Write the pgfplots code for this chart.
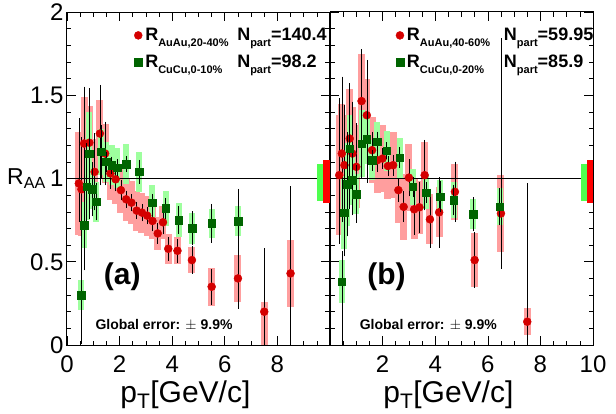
\documentclass[border=0pt]{standalone}
\usepackage{pgfplots}
\usepackage{pgfplotstable}
\pgfplotsset{compat=1.18}
\usepackage{fontspec}
\setmainfont{Liberation Sans}
\definecolor{rmark}{HTML}{D40000}
\definecolor{gmark}{HTML}{006400}
\definecolor{rbox}{HTML}{FF9E9E}
\definecolor{gbox}{HTML}{9EFF9E}
\newcommand{\lsub}[1]{\raisebox{-0.32em}{\fontsize{11}{11}\selectfont #1}}

% x y stat+ stat- box+ box-
\pgfplotstableread{
x y sp sm bp bm
0.45 0.97 0.38 0.22 0.31 0.31
0.55 0.935 0.30 0.30 0.28 0.28
0.65 1.21 0.33 0.47 0.28 0.28
0.85 1.215 0.30 0.30 0.22 0.22
1.05 1.04 0.22 0.22 0.20 0.20
1.25 1.27 0.28 0.30 0.20 0.20
1.45 1.15 0.18 0.18 0.18 0.18
1.65 1.03 0.08 0.08 0.16 0.16
1.85 0.995 0.06 0.06 0.15 0.15
2.05 0.93 0.05 0.05 0.14 0.14
2.25 0.875 0.04 0.04 0.13 0.13
2.45 0.855 0.04 0.04 0.13 0.13
2.65 0.807 0.04 0.04 0.12 0.12
2.85 0.795 0.04 0.04 0.12 0.12
3.05 0.777 0.04 0.04 0.12 0.12
3.25 0.745 0.05 0.05 0.11 0.11
3.45 0.67 0.05 0.05 0.10 0.10
3.65 0.737 0.06 0.06 0.10 0.10
3.85 0.578 0.06 0.06 0.09 0.09
4.2 0.566 0.06 0.06 0.08 0.08
4.75 0.51 0.07 0.07 0.08 0.08
5.5 0.35 0.095 0.095 0.115 0.115
6.5 0.40 0.17 0.17 0.14 0.14
7.5 0.20 0.37 0.37 0.06 0.20
8.5 0.43 0.51 0.51 0.20 0.20
}\redA
\pgfplotstableread{
x y sp sm bp bm
0.55 0.30 0.37 0.28 0.09 0.09
0.65 0.72 0.26 0.26 0.14 0.14
0.75 0.95 0.25 0.25 0.20 0.20
0.85 1.15 0.38 0.38 0.25 0.25
0.95 0.935 0.15 0.15 0.12 0.12
1.1 0.86 0.10 0.10 0.12 0.12
1.3 1.16 0.15 0.15 0.14 0.14
1.5 1.10 0.05 0.05 0.12 0.12
1.7 1.08 0.04 0.04 0.12 0.12
1.9 1.065 0.04 0.04 0.12 0.12
2.25 1.087 0.035 0.035 0.12 0.12
2.75 1.04 0.06 0.06 0.12 0.12
3.25 0.855 0.04 0.04 0.105 0.105
3.75 0.82 0.05 0.05 0.105 0.105
4.25 0.75 0.07 0.07 0.10 0.10
4.75 0.70 0.09 0.09 0.095 0.095
5.5 0.73 0.105 0.105 0.087 0.087
6.5 0.745 0.18 0.18 0.09 0.09
}\greenA
\pgfplotstableread{
x y sp sm bp bm
0.35 1.02 0.45 0.40 0.36 0.36
0.45 1.15 0.45 0.40 0.30 0.30
0.55 1.08 0.35 0.35 0.30 0.30
0.75 1.24 0.32 0.32 0.30 0.30
0.85 1.15 0.30 0.30 0.28 0.28
1.0 1.07 0.25 0.25 0.25 0.25
1.2 1.465 0.30 0.30 0.28 0.28
1.4 1.38 0.32 0.32 0.22 0.22
1.6 1.17 0.10 0.10 0.20 0.20
1.8 1.11 0.06 0.06 0.20 0.20
2.0 1.12 0.05 0.05 0.20 0.20
2.2 1.075 0.05 0.05 0.20 0.20
2.4 1.08 0.05 0.05 0.20 0.20
2.6 0.93 0.06 0.06 0.20 0.20
2.8 0.83 0.08 0.08 0.20 0.20
3.0 1.005 0.10 0.10 0.20 0.20
3.2 0.815 0.14 0.14 0.18 0.18
3.4 0.827 0.14 0.14 0.16 0.16
3.6 1.02 0.20 0.20 0.20 0.20
3.8 0.755 0.16 0.16 0.15 0.15
4.15 0.797 0.20 0.20 0.15 0.15
4.75 0.92 0.17 0.17 0.17 0.17
5.5 0.51 0.155 0.155 0.16 0.16
6.5 0.79 1.04 0.32 0.23 0.23
7.5 0.14 0.82 0.14 0.08 0.08
}\redB
\pgfplotstableread{
x y sp sm bp bm
0.45 0.38 0.17 0.37 0.13 0.13
0.55 0.795 0.25 0.25 0.22 0.22
0.65 0.965 0.30 0.30 0.25 0.25
0.75 1.18 0.35 0.35 0.20 0.20
0.85 0.99 0.20 0.20 0.15 0.15
1.0 0.907 0.16 0.16 0.12 0.12
1.2 1.21 0.20 0.20 0.20 0.20
1.4 1.235 0.25 0.25 0.15 0.15
1.6 1.11 0.05 0.05 0.12 0.12
1.8 1.22 0.05 0.05 0.12 0.12
2.15 1.167 0.04 0.04 0.12 0.12
2.65 1.125 0.05 0.05 0.12 0.12
3.15 0.95 0.05 0.05 0.11 0.11
3.65 0.915 0.05 0.05 0.10 0.10
4.2 0.89 0.08 0.08 0.10 0.10
4.7 0.87 0.08 0.08 0.11 0.11
5.45 0.785 0.09 0.09 0.09 0.09
6.45 0.83 0.10 0.10 0.11 0.11
}\greenB

\pgfplotsset{
  panel/.style={
    scale only axis, width=263pt, height=333pt,
    xmin=0, xmax=10, ymin=0, ymax=2,
    clip mode=individual,
    axis line style={line width=1pt},
    tick align=inside, xtick pos=both, ytick pos=both,
    xtick={0,2,4,6,8,10}, minor x tick num=3,
    ytick={0,0.5,1,1.5,2}, minor y tick num=4,
    major tick length=9pt, minor tick length=4.5pt,
    every tick/.style={black, line width=0.6pt},
    ticklabel style={font=\fontsize{24}{24}\selectfont},
    xticklabel style={yshift=-7pt},
    /pgf/number format/assume math mode=true,
    legend cell align=left,
    legend image code/.code={\draw[#1] plot coordinates {(0pt,0pt)};},
    legend style={draw=none, fill=none, inner sep=0pt,
      font=\bfseries\fontsize{18}{18}\selectfont,
      row sep=9pt,
      /tikz/every odd column/.append style={column sep=1pt}},
  },
  boxR/.style={only marks, mark=none, forget plot,
    error bars/.cd, y dir=both, y explicit, error mark=none,
    error bar style={rbox, line width=7pt}},
  boxG/.style={only marks, mark=none, forget plot,
    error bars/.cd, y dir=both, y explicit, error mark=none,
    error bar style={gbox, line width=6pt}},
  statR/.style={only marks, mark=*, mark size=4pt,
    mark options={draw=rmark, fill=rmark},
    error bars/.cd, y dir=both, y explicit,
    error bar style={black, line width=0.6pt},
    error mark options={black, line width=0.6pt, mark size=2pt}},
  statG/.style={only marks, mark=square*, mark size=3.8pt,
    mark options={draw=gmark, fill=gmark},
    error bars/.cd, y dir=both, y explicit,
    error bar style={black, line width=0.6pt},
    error mark options={black, line width=0.6pt, mark size=2pt}},
}

\begin{document}
\begin{tikzpicture}
\useasboundingbox (-67pt,-68pt) rectangle (549pt,345pt);
% ---------- left panel ----------
\begin{axis}[panel, at={(0pt,0pt)}, anchor=south west,
  xticklabels={0,2,4,6,8,},
  legend style={at={(axis cs:2.55,1.915)}, anchor=north west}]
\addplot[boxR] table[x=x,y=y,y error plus=bp,y error minus=bm] {\redA};
\addplot[boxG] table[x=x,y=y,y error plus=bp,y error minus=bm] {\greenA};
\addplot[black, line width=0.8pt, forget plot] coordinates {(0,1) (10,1)};
\addplot[fill=gbox!50!green, draw=none, forget plot] coordinates {(9.5,0.867) (9.72,0.867) (9.72,1.09) (9.5,1.09)} -- cycle;
\addplot[fill=red, draw=none, forget plot] coordinates {(9.72,0.855) (10,0.855) (10,1.11) (9.72,1.11)} -- cycle;
\addplot[statR] table[x=x,y=y,y error plus=sp,y error minus=sm] {\redA};
\addlegendentry{\makebox[92pt][l]{R\lsub{AuAu,20-40\%}}N\lsub{part}=140.4}
\addplot[statG] table[x=x,y=y,y error plus=sp,y error minus=sm] {\greenA};
\addlegendentry{\makebox[92pt][l]{R\lsub{CuCu,0-10\%}}N\lsub{part}=98.2}
\node[font=\bfseries\fontsize{30}{30}\selectfont] at (axis cs:2.1,0.41) {(a)};
\node[font=\bfseries\fontsize{14}{14}\selectfont, anchor=west] at (axis cs:0.95,0.12) {Global error: $\pm$ 9.9\%};
\node[font=\fontsize{30}{30}\selectfont, anchor=base] at (rel axis cs:0.45,-0.172) {p\textsubscript{T}[GeV/c]};
\node[font=\fontsize{23}{23}\selectfont, anchor=east, inner sep=0pt] at (rel axis cs:-0.08,0.5) {R\textsubscript{AA}};
\end{axis}
% ---------- right panel ----------
\begin{axis}[panel, at={(263pt,0pt)}, anchor=south west,
  xticklabels={,2,4,6,8,10}, yticklabels={},
  legend style={at={(axis cs:2.5,1.915)}, anchor=north west}]
\addplot[boxR] table[x=x,y=y,y error plus=bp,y error minus=bm] {\redB};
\addplot[boxG] table[x=x,y=y,y error plus=bp,y error minus=bm] {\greenB};
\addplot[black, line width=0.8pt, forget plot] coordinates {(0,1) (10,1)};
\addplot[fill=gbox!50!green, draw=none, forget plot] coordinates {(9.55,0.867) (9.77,0.867) (9.77,1.09) (9.55,1.09)} -- cycle;
\addplot[fill=red, draw=none, forget plot] coordinates {(9.77,0.855) (10,0.855) (10,1.11) (9.77,1.11)} -- cycle;
\addplot[statR] table[x=x,y=y,y error plus=sp,y error minus=sm] {\redB};
\addlegendentry{\makebox[97pt][l]{R\lsub{AuAu,40-60\%}}N\lsub{part}=59.95}
\addplot[statG] table[x=x,y=y,y error plus=sp,y error minus=sm] {\greenB};
\addlegendentry{\makebox[97pt][l]{R\lsub{CuCu,0-20\%}}N\lsub{part}=85.9}
\node[font=\bfseries\fontsize{30}{30}\selectfont] at (axis cs:2.15,0.41) {(b)};
\node[font=\bfseries\fontsize{14}{14}\selectfont, anchor=west] at (axis cs:1.0,0.12) {Global error: $\pm$ 9.9\%};
\node[font=\fontsize{30}{30}\selectfont, anchor=base] at (rel axis cs:0.45,-0.172) {p\textsubscript{T}[GeV/c]};
\end{axis}
\end{tikzpicture}
\end{document}
